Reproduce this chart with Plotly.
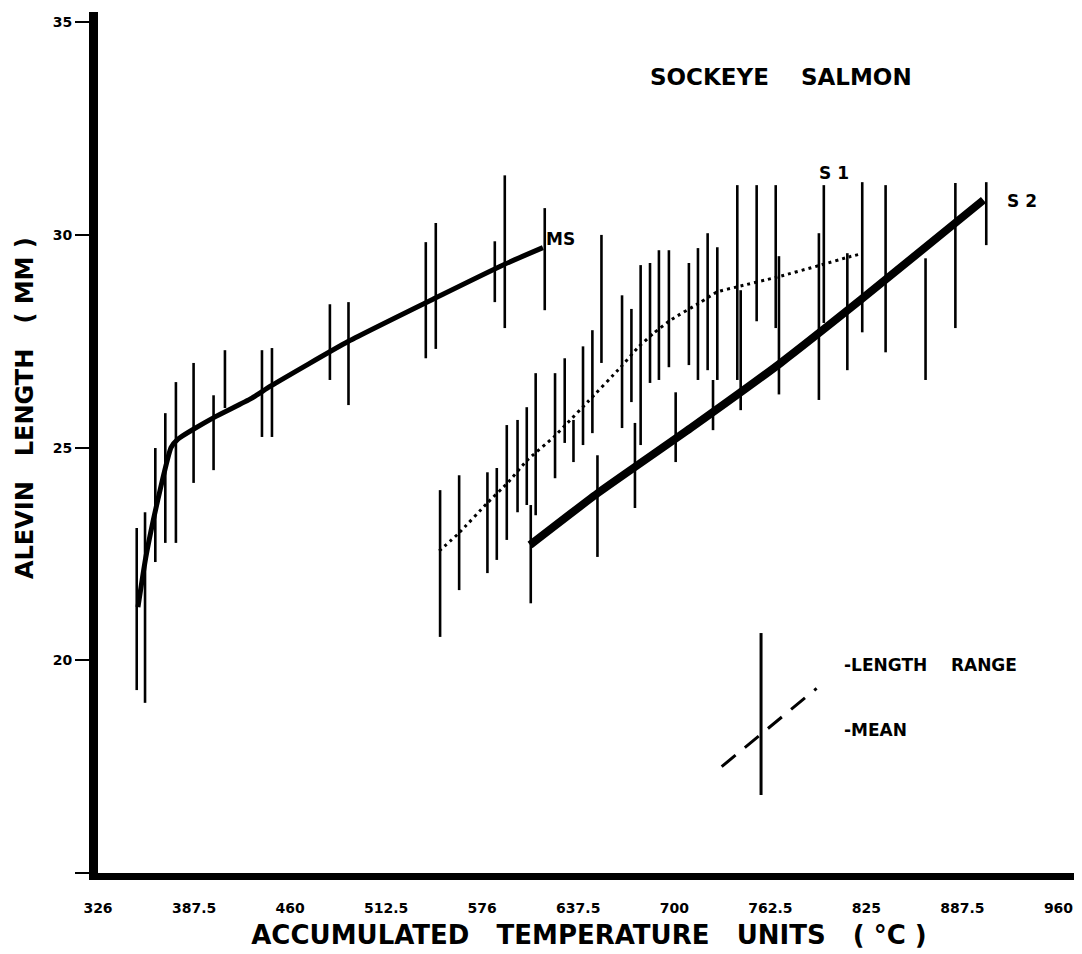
import plotly.graph_objects as go

# accumulated temperature units (x) and alevin length in mm (y)
# MS group: mean curve
ms_atu = [351, 356, 361, 367, 372.5, 377, 400, 424.5, 437.5, 488, 543.5, 589, 614.5]
ms_mean = [21.25, 22.4, 23.3, 24.25, 25.0, 25.2, 25.7, 26.15, 26.45, 27.5, 28.5, 29.3, 29.7]

# MS group: length ranges
ms_bar_atu = [350.2, 355.6, 362.3, 368.8, 375.7, 387.2, 400.2, 407.6, 431.7, 438.2,
              475.9, 488.0, 538.3, 544.8, 583.2, 589.7, 615.7]
ms_bar_hi = [23.11, 23.48, 24.99, 25.81, 26.54, 26.99, 26.23, 27.29, 27.29, 27.34,
             28.37, 28.42, 29.83, 30.28, 29.85, 31.40, 30.63]
ms_bar_lo = [19.30, 19.00, 22.31, 22.76, 22.76, 24.17, 24.47, 25.93, 25.25, 25.25,
             26.59, 26.00, 27.10, 27.32, 28.42, 27.81, 28.23]

# S1 group: mean curve (dotted)
s1_atu = [547.0, 559.8, 578.4, 591.5, 604.5, 621.6, 630.5, 643.5, 665.1, 676.0,
          686.6, 697.7, 717.2, 728.0, 741.0, 767.0, 795.2, 813.4, 821.2]
s1_mean = [22.57, 22.99, 23.70, 24.17, 24.71, 25.25, 25.58, 26.07, 26.89, 27.34,
           27.69, 28.00, 28.42, 28.66, 28.78, 29.01, 29.29, 29.48, 29.55]

# S1 group: length ranges
s1_bar_atu = [547.6, 560.0, 578.4, 584.5, 591.0, 598.0, 604.0, 609.8, 622.4, 628.7,
              634.4, 640.6, 646.7, 652.6, 666.0, 672.1, 678.1, 684.2, 690.0, 696.5,
              709.5, 715.4, 721.7, 728.0, 741.0, 753.6, 766.0, 797.3, 812.6]
s1_bar_hi = [24.00, 24.35, 24.42, 24.52, 25.53, 25.65, 25.95, 26.75, 26.75, 27.10,
             25.65, 27.38, 27.76, 30.00, 28.58, 28.26, 29.29, 29.34, 29.64, 29.64,
             29.34, 29.69, 30.04, 29.71, 31.17, 31.17, 31.17, 31.17, 29.57]
s1_bar_lo = [20.55, 21.65, 22.05, 22.36, 22.83, 23.48, 23.65, 23.41, 24.28, 25.11,
             24.66, 25.06, 25.34, 26.99, 25.46, 26.07, 25.06, 26.52, 26.59, 26.89,
             26.94, 26.59, 26.82, 26.59, 26.59, 27.97, 27.81, 27.93, 26.82]

# S2 group: mean curve
s2_atu = [606.1, 650.2, 710.7, 769.2, 821.2, 901.2]
s2_mean = [22.71, 23.93, 25.46, 26.99, 28.47, 30.82]

# S2 group: length ranges
s2_bar_atu = [606.6, 650.0, 674.4, 700.9, 725.2, 743.2, 768.1, 794.1, 822.3, 837.5,
              863.5, 882.9, 903.0]
s2_bar_hi = [23.65, 24.82, 25.58, 26.30, 26.59, 28.70, 29.50, 30.04, 31.24, 31.17,
             29.45, 31.22, 31.24]
s2_bar_lo = [21.34, 22.43, 23.58, 24.66, 25.41, 25.88, 26.25, 26.12, 27.71, 27.24,
             26.59, 27.81, 29.76]

x_tickvals = [325, 387.5, 450, 512.5, 575, 637.5, 700, 762.5, 825, 887.5, 950]
x_ticktext = ["326", "387.5", "460", "512.5", "576", "637.5", "700", "762.5", "825", "887.5", "960"]
y_tickvals = [15, 20, 25, 30, 35]
y_ticktext = ["", "20", "25", "30", "35"]

FONT = "DejaVu Sans"
NB = "\u00a0"


def range_segments(xs, lo, hi):
    # vertical segments separated by gaps
    sx, sy = [], []
    for x, a, b in zip(xs, lo, hi):
        sx += [x, x, None]
        sy += [a, b, None]
    return sx, sy


fig = go.Figure()

for xs, lo, hi in [(ms_bar_atu, ms_bar_lo, ms_bar_hi),
                   (s1_bar_atu, s1_bar_lo, s1_bar_hi),
                   (s2_bar_atu, s2_bar_lo, s2_bar_hi)]:
    bx, by = range_segments(xs, lo, hi)
    fig.add_trace(go.Scatter(x=bx, y=by, mode="lines",
                             line=dict(color="black", width=2.6),
                             hoverinfo="skip", showlegend=False))

fig.add_trace(go.Scatter(x=ms_atu, y=ms_mean, mode="lines", name="MS",
                         line=dict(color="black", width=5, shape="spline", smoothing=0.5)))
fig.add_trace(go.Scatter(x=s1_atu, y=s1_mean, mode="lines", name="S1",
                         line=dict(color="black", width=3, dash="3px,4px", shape="spline", smoothing=0.5)))
fig.add_trace(go.Scatter(x=s2_atu, y=s2_mean, mode="lines", name="S2",
                         line=dict(color="black", width=8, shape="spline", smoothing=0.5)))

# curve labels
lbl_font = dict(family=FONT, size=17, color="black", weight="bold")
fig.add_annotation(x=615.5, y=29.9, text="MS", showarrow=False, xanchor="left", font=lbl_font)
fig.add_annotation(x=804, y=31.45, text="S" + NB + "1", showarrow=False, font=lbl_font)
fig.add_annotation(x=926, y=30.8, text="S" + NB + "2", showarrow=False, font=lbl_font)

# chart title
fig.add_annotation(xref="paper", yref="paper", x=0.6955, y=0.9245, xanchor="center", yanchor="middle",
                   text="SOCKEYE" + NB * 4 + "SALMON", showarrow=False,
                   font=dict(family=FONT, size=23, color="black", weight="bold"))

# y axis title
fig.add_annotation(xref="paper", yref="paper", x=-0.0743, y=0.54, xanchor="center", yanchor="middle",
                   textangle=-90, showarrow=False,
                   text="ALEVIN" + NB * 3 + "LENGTH" + NB * 3 + "(" + NB + "MM" + NB + ")",
                   font=dict(family=FONT, size=24, color="black", weight="bold"))

# key drawn in the lower right
fig.add_shape(type="line", xref="paper", yref="paper", x0=0.6752, x1=0.6752, y0=0.0906, y1=0.2787,
              line=dict(color="black", width=3))
fig.add_shape(type="line", xref="paper", yref="paper", x0=0.6351, y0=0.1235, x1=0.7318, y1=0.2145,
              line=dict(color="black", width=3, dash="18px,12px"))
key_font = dict(family=FONT, size=17, color="black", weight="bold")
fig.add_annotation(xref="paper", yref="paper", x=0.7576, y=0.2416, xanchor="left", yanchor="middle",
                   text="-" + "LENGTH" + NB * 4 + "RANGE", showarrow=False, font=key_font)
fig.add_annotation(xref="paper", yref="paper", x=0.7576, y=0.166, xanchor="left", yanchor="middle",
                   text="-MEAN", showarrow=False, font=key_font)

fig.update_layout(
    width=1074, height=946,
    margin=dict(l=90, r=2, t=4, b=81),
    paper_bgcolor="white", plot_bgcolor="white",
    showlegend=False,
    xaxis=dict(range=[325, 964], tickvals=x_tickvals, ticktext=x_ticktext, automargin=False,
               showgrid=False, zeroline=False, showline=True, linecolor="black", linewidth=7,
               ticks="", ticklabelstandoff=16,
               tickfont=dict(family=FONT, size=14, color="black", weight="bold"),
               title=dict(text="ACCUMULATED" + NB * 3 + "TEMPERATURE" + NB * 3 + "UNITS" + NB * 3 + "(" + NB + "°C" + NB + ")",
                          font=dict(family=FONT, size=26, color="black", weight="bold"),
                          standoff=14)),
    yaxis=dict(range=[15, 35.24], tickvals=y_tickvals, ticktext=y_ticktext, automargin=False,
               showgrid=False, zeroline=False, showline=True, linecolor="black", linewidth=9,
               ticks="outside", ticklen=14, tickwidth=2, tickcolor="black",
               tickfont=dict(family=FONT, size=14, color="black", weight="bold")),
)

fig.write_html("out.html")
